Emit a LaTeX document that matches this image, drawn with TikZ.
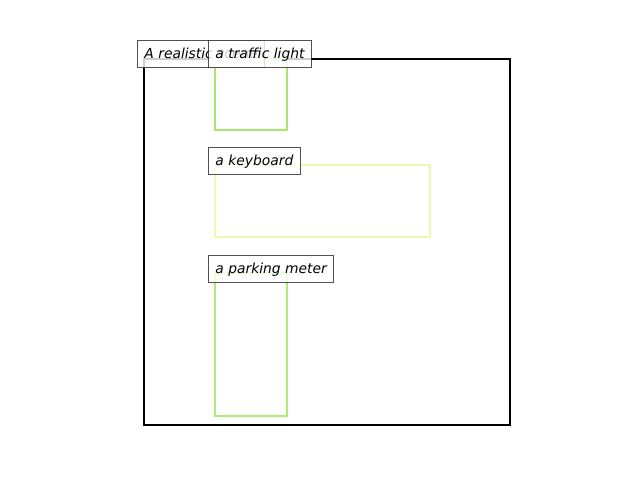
\documentclass[tikz,border=0pt]{standalone}
\usepackage{fontspec}
\setmainfont{DejaVu Sans}
\definecolor{tlgreen}{RGB}{168,232,106}
\definecolor{pmgreen}{RGB}{176,236,112}
\definecolor{kbyellow}{RGB}{236,249,176}
\begin{document}
\begin{tikzpicture}[x=0.01in,y=-0.01in,
  lbl/.style={anchor=base west,inner xsep=5.04pt,inner ysep=0pt,
    text height=13.68pt,text depth=6.48pt,fill=white,fill opacity=0.8,
    draw=black!85,draw opacity=0.8,text opacity=1,line width=0.72pt,
    font=\itshape\fontsize{10pt}{12pt}\selectfont},
  box/.style={line width=1.5pt,line join=miter}]
\useasboundingbox (0,0) rectangle (640,480);
\draw[box,black] (144,59) rectangle (510,425);
\draw[box,tlgreen] (215,59) rectangle (287,130);
\draw[box,kbyellow] (215,165) rectangle (430,237);
\draw[box,pmgreen] (215,273) rectangle (287,416);
\node[lbl] (scene) at (137,59) {A realistic scene};
\node[lbl] (traffic) at (208,59) {a traffic light};
\node[lbl] (keyboard) at (208,166) {a keyboard};
\node[lbl] (meter) at (208,274) {a parking meter};
\end{tikzpicture}
\end{document}
